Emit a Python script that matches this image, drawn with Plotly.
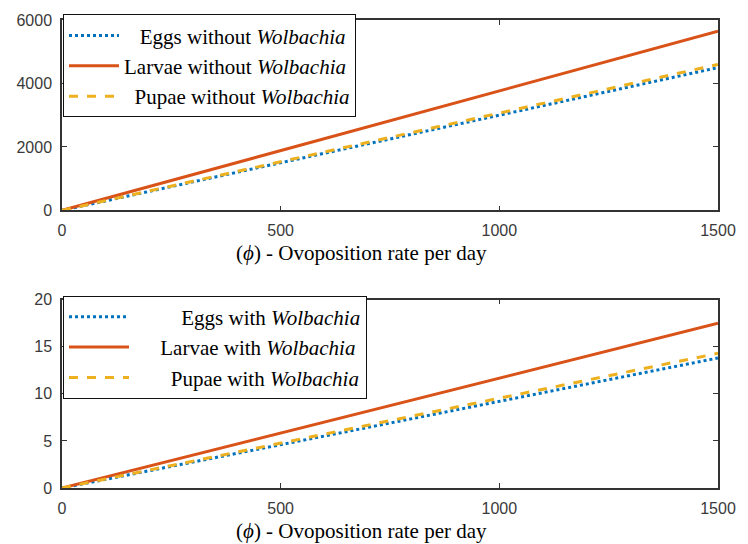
import plotly.graph_objects as go

# Data
phi = [0, 500, 1000, 1500]

eggs_without = [0, 1500, 3000, 4500]
larvae_without = [0, 1880, 3770, 5650]
pupae_without = [0, 1530, 3070, 4600]

eggs_with = [0, 4.6, 9.2, 13.8]
larvae_with = [0, 5.83, 11.67, 17.5]
pupae_with = [0, 4.77, 9.53, 14.3]

x_ticks = [0, 500, 1000, 1500]
y_ticks_top = [0, 2000, 4000, 6000]
y_ticks_bottom = [0, 5, 10, 15, 20]

BLUE = "#0072BD"
ORANGE = "#D95319"
YELLOW = "#EDB120"
NB = "\u00a0"

fig = go.Figure()

def add_series(xa, ya, leg, eggs, larvae, pupae, word, pads):
    fig.add_trace(go.Scatter(x=phi, y=eggs, mode="lines", xaxis=xa, yaxis=ya, legend=leg,
                             line=dict(color=BLUE, width=3, dash="dot"),
                             name=NB * pads[0] + f"Eggs {word} <i>Wolbachia</i>"))
    fig.add_trace(go.Scatter(x=phi, y=larvae, mode="lines", xaxis=xa, yaxis=ya, legend=leg,
                             line=dict(color=ORANGE, width=3),
                             name=NB * pads[1] + f"Larvae {word} <i>Wolbachia</i>"))
    fig.add_trace(go.Scatter(x=phi, y=pupae, mode="lines", xaxis=xa, yaxis=ya, legend=leg,
                             line=dict(color=YELLOW, width=3, dash="9px,9px"),
                             name=NB * pads[2] + f"Pupae {word} <i>Wolbachia</i>"))

add_series("x", "y", "legend", eggs_without, larvae_without, pupae_without, "without", (3, 0, 2))
add_series("x2", "y2", "legend2", eggs_with, larvae_with, pupae_with, "with", (9, 5, 7))

axis_common = dict(
    showgrid=False, zeroline=False, showline=True, linecolor="#333333", linewidth=1.5,
    mirror="ticks", ticks="inside", ticklen=5, tickcolor="#333333", tickwidth=1.2,
    tickfont=dict(family="Liberation Sans, Arial, sans-serif", size=16, color="#3a3a3a"),
    ticklabelstandoff=5,
)

top_lo = (488 - 208) / 472
bot_hi = (488 - 298) / 472
leg_font = dict(family="Liberation Serif, Times New Roman, serif", size=21, color="black")

fig.update_layout(
    width=748, height=544,
    margin=dict(l=62, r=24, t=16, b=56),
    paper_bgcolor="white", plot_bgcolor="white",
    showlegend=True,
    xaxis=dict(domain=[0, 1], anchor="y", range=[0, 1500], tickvals=x_ticks, **axis_common),
    yaxis=dict(domain=[top_lo, 1], anchor="x", range=[0, 6000], tickvals=y_ticks_top, **axis_common),
    xaxis2=dict(domain=[0, 1], anchor="y2", range=[0, 1500], tickvals=x_ticks, **axis_common),
    yaxis2=dict(domain=[0, bot_hi], anchor="x2", range=[0, 20], tickvals=y_ticks_bottom, **axis_common),
    legend=dict(x=0.0015, y=1.012, xanchor="left", yanchor="top", bgcolor="white",
                bordercolor="#111111", borderwidth=1, itemwidth=50, font=leg_font),
    legend2=dict(x=0.0015, y=(488 - 294) / 472, xanchor="left", yanchor="top", bgcolor="white",
                 bordercolor="#111111", borderwidth=1, itemwidth=60, font=leg_font),
)

xlabel = "(<i>ϕ</i>) - Ovoposition rate per day"
for yy in [(488 - 251) / 472, (488 - 531) / 472]:
    fig.add_annotation(x=(364 - 62) / 662, y=yy, xref="paper", yref="paper",
                       text=xlabel, showarrow=False, xanchor="center", yanchor="middle",
                       font=dict(family="Liberation Serif, Times New Roman, serif", size=21, color="black"))

fig.write_html("out.html")
